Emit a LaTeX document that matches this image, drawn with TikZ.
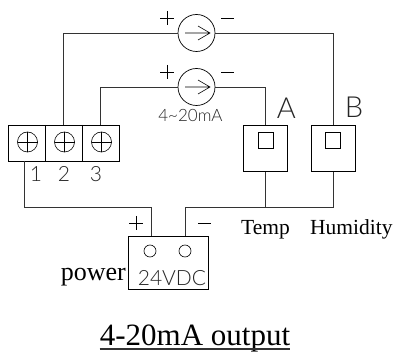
\documentclass[tikz,border=0pt]{standalone}
\usepackage{fontspec}
\usetikzlibrary{calc}
\setmainfont{Liberation Serif}
\newfontfamily\cadfont{Lato Light}
\tikzset{
  wire/.style={draw=black!80,line width=0.8pt},
  boxed/.style={draw=black,line width=0.8pt,inner sep=0pt,rectangle},
  thinline/.style={draw=black,line width=0.6pt},
  source/.style={circle,draw=black,line width=0.7pt,minimum size=37pt,inner sep=0pt},
  cad/.style={text=black!85,inner sep=0pt},
  serif/.style={text=black,inner sep=0pt}
}
\begin{document}
\begin{tikzpicture}[x=1pt,y=-1pt]
\useasboundingbox (0,0) rectangle (396,352);
\fill[white] (0,0) rectangle (396,352);
% terminal block
\coordinate (T1) at (24.5,161);
\coordinate (T2) at (63.5,125);
\coordinate (T3) at (100.5,125);
\draw[thinline] (8,125) rectangle (119.5,161);
\draw[thinline] (45.5,125) -- (45.5,161) (82.5,125) -- (82.5,161);
\foreach \c in {27.5,64.5,101.5}{
  \draw[thinline] (\c,142) circle (10);
  \draw[thinline] (\c-10,142) -- (\c+10,142) (\c,132) -- (\c,152);
}
\node[cad,font=\cadfont\fontsize{21}{21}\selectfont] at (36,174) {1};
\node[cad,font=\cadfont\fontsize{21}{21}\selectfont] at (64,174) {2};
\node[cad,font=\cadfont\fontsize{21}{21}\selectfont] at (96,174) {3};
% sources
\node[source] (S1) at (196.5,33) {};
\node[source] (S2) at (196.5,87) {};
\draw[thinline] (185,33) -- (210,33) (198,26) -- (210,33) -- (198,40);
\draw[thinline] (185,87) -- (210,87) (198,80) -- (210,87) -- (198,94);
\foreach \y in {18,72}{
  \draw[thinline] (160,\y) -- (174,\y) (167,\y-7) -- (167,\y+7);
  \draw[thinline] (221,\y) -- (234,\y);
}
\node[cad,font=\cadfont\fontsize{17}{17}\selectfont] at (190.5,115) {4\textasciitilde 20mA};
% sensors
\node[boxed,minimum width=44pt,minimum height=46.5pt] (A) at (265.5,148.25) {};
\node[boxed,minimum width=44pt,minimum height=46.5pt] (B) at (333.25,148.25) {};
\node[boxed,minimum width=15pt,minimum height=15.5pt] at (265.5,140.25) {};
\node[boxed,minimum width=15pt,minimum height=15.5pt] at (333.25,140.25) {};
\node[cad,font=\cadfont\fontsize{29}{29}\selectfont] at (286.5,108.5) {A};
\node[cad,font=\cadfont\fontsize{29}{29}\selectfont] at (354,107.5) {B};
% wires
\draw[wire] (T2) -- (63.5,33) -- (S1.west);
\draw[wire] (T3) -- (100.5,87) -- (S2.west);
\draw[wire] (S1.east) -- (333.25,33) -- (B.north);
\draw[wire] (S2.east) -- (265.5,87) -- (A.north);
% power
\node[boxed,minimum width=80pt,minimum height=53pt] (P) at (168,263) {};
\draw[thinline] (150,251) circle (6) (185,251) circle (6);
\coordinate (Pp) at (151,236.5);
\coordinate (Pm) at (185,236.5);
\draw[wire] (T1) -- (24.5,207) -- (151,207) -- (Pp);
\draw[wire] (A.south) -- (265.5,207);
\draw[wire] (B.south) -- (333.25,207) -- (185,207) -- (Pm);
\draw[thinline] (129,223) -- (143,223) (136,216) -- (136,230);
\draw[thinline] (198,223) -- (211,223);
\node[cad,font=\cadfont\fontsize{21}{21}\selectfont] at (172,278) {24VDC};
% labels
\node[serif,font=\fontsize{26}{26}\selectfont,anchor=base east] at (126,281) {power};
\node[serif,font=\fontsize{21.5}{21.5}\selectfont,anchor=base west] at (241,235) {Temp};
\node[serif,font=\fontsize{21.5}{21.5}\selectfont,anchor=base west] at (310,235) {Humidity};
\node[serif,font=\fontsize{31}{31}\selectfont,anchor=base] (Title) at (195,345) {4-20mA output};
\draw[wire,line width=1.2pt] ($(Title.base west)+(0,4)$) -- ($(Title.base east)+(0,4)$);
\end{tikzpicture}
\end{document}
